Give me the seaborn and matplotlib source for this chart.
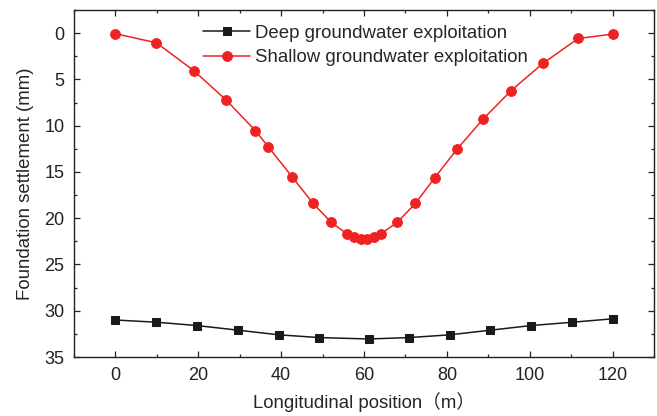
import numpy as np
import matplotlib.pyplot as plt
import seaborn as sns
from matplotlib.ticker import MultipleLocator

sns.set_style('ticks')
plt.rcParams['font.family'] = ['Liberation Sans', 'Noto Sans CJK SC']
plt.rcParams['font.size'] = 13
plt.rcParams['xtick.direction'] = 'in'
plt.rcParams['ytick.direction'] = 'in'

deep_x = [0, 9.9, 19.7, 29.6, 39.4, 49.2, 61.1, 70.9, 80.7, 90.5, 100.3, 110.3, 120]
deep_y = [31.0, 31.24, 31.6, 32.1, 32.6, 32.9, 33.05, 32.9, 32.6, 32.1, 31.6, 31.24, 30.87]

shallow_x = [0, 9.9, 18.9, 26.8, 33.8, 36.9, 42.6, 47.7, 52.1, 55.9, 57.6, 59.2,
             60.8, 62.4, 64.0, 68.0, 72.4, 77.1, 82.5, 88.7, 95.5, 103.2, 111.7, 120]
shallow_y = [0.05, 1.04, 4.04, 7.26, 10.54, 12.28, 15.5, 18.4, 20.45, 21.7, 22.0, 22.2,
             22.2, 22.0, 21.7, 20.45, 18.4, 15.6, 12.5, 9.3, 6.2, 3.25, 0.57, 0.1]

fig = plt.figure(figsize=(6.57, 4.16), dpi=100)
ax = fig.add_axes([0.1126, 0.1418, 0.883, 0.834])

sns.lineplot(x=deep_x, y=deep_y, ax=ax, color='#1a1a1a', marker='s', markersize=6,
             markeredgecolor='#1a1a1a', linewidth=1.1, sort=False,
             label='Deep groundwater exploitation')
sns.lineplot(x=shallow_x, y=shallow_y, ax=ax, color='#ee2222', marker='o', markersize=7,
             markeredgecolor='#ee2222', linewidth=1.1, sort=False,
             label='Shallow groundwater exploitation')

ax.set_xlim(-10, 130)
ax.set_ylim(35, -2.5)
ax.xaxis.set_major_locator(MultipleLocator(20))
ax.xaxis.set_minor_locator(MultipleLocator(10))
ax.yaxis.set_major_locator(MultipleLocator(5))
ax.yaxis.set_minor_locator(MultipleLocator(2.5))
ax.tick_params(which='both', top=True, right=True, labelsize=13, colors='#222222')
ax.tick_params(which='major', length=4.3, width=0.9, pad=7)
ax.tick_params(which='minor', length=2.3, width=0.9)
for s in ax.spines.values():
    s.set_linewidth(1.0)
    s.set_color('#222222')

ax.set_xlabel('Longitudinal position（m）', fontsize=13.4, labelpad=6)
ax.set_ylabel('Foundation settlement (mm)', fontsize=13.4, labelpad=7)

ax.legend(loc='upper center', bbox_to_anchor=(0.503, 1.0), frameon=False, fontsize=13.4,
          handlelength=2.5, handletextpad=0.3, labelspacing=0.4, borderaxespad=0.4)

fig.savefig('out.png', dpi=100)
